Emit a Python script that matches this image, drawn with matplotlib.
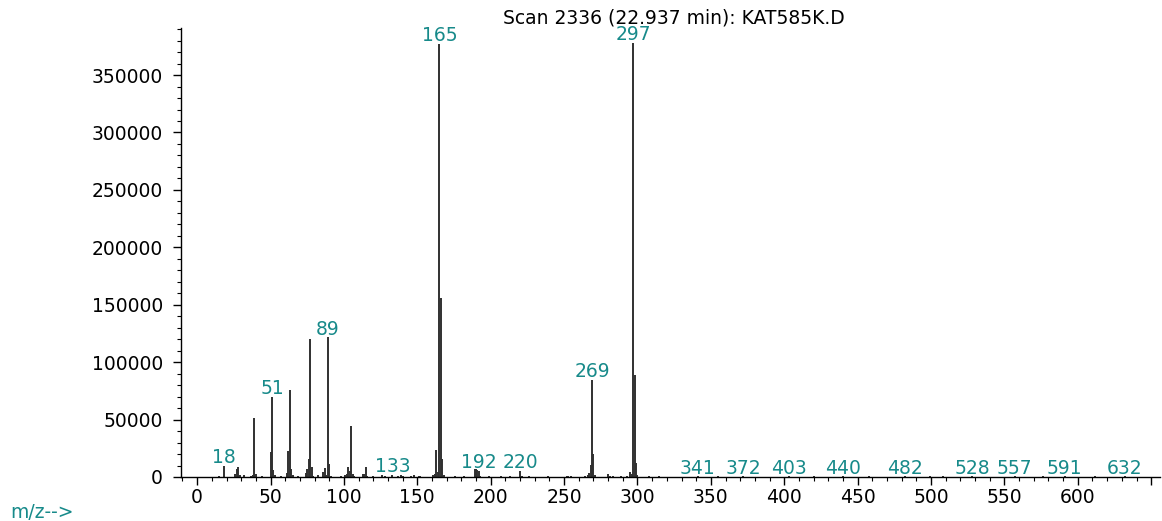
import numpy as np
import matplotlib
matplotlib.use("Agg")
import matplotlib.pyplot as plt
from matplotlib.ticker import MultipleLocator

# mass spectrum: m/z and abundance
mz = [15, 18, 26, 27, 28, 29, 32, 37, 38, 39, 40, 44, 50, 51, 52, 53, 57,
      61, 62, 63, 64, 65, 69, 74, 75, 76, 77, 78, 79, 82, 86, 87, 88, 89,
      90, 91, 98, 101, 102, 103, 104, 105, 106, 107, 113, 114, 115, 116,
      120, 126, 128, 133, 137, 139, 140, 146, 148, 151, 152, 161, 162, 163,
      164, 165, 166, 167, 168, 176, 182, 189, 190, 191, 192, 193, 199, 207,
      213, 220, 221, 226, 239, 252, 253, 255, 264, 266, 267, 268, 269, 270,
      271, 280, 281, 283, 289, 293, 295, 296, 297, 298, 299, 300, 308, 315,
      327, 341, 355, 372, 389, 403, 420, 440, 458, 482, 499, 508, 528, 541,
      557, 576, 591, 612, 632, 645]
abundance = [1200, 9600, 2500, 7000, 8400, 1500, 1700, 1200, 2000, 51000,
             2500, 1000, 22000, 70000, 6000, 1500, 800,
             3500, 22600, 75700, 6700, 1800, 700, 3500, 7000, 16000, 120000,
             8700, 1200, 1700, 4600, 7800, 2000, 121600,
             11300, 1200, 800, 1500, 2500, 9000, 5000, 44400, 2300, 800,
             2300, 2500, 9000, 1000,
             800, 1500, 900, 1500, 1000, 2000, 1200, 800, 1500, 900, 700,
             1500, 3000, 23500,
             4000, 377000, 155800, 15700, 1500, 600, 700, 6700, 6700, 6000,
             5500, 1200, 600, 600,
             600, 5200, 900, 500, 600, 1000, 700, 500, 700, 1500, 3200, 10400,
             84400, 19700,
             2000, 2500, 700, 500, 700, 1000, 4000, 2200, 378000, 88800, 12500,
             1500, 500, 500,
             400, 600, 500, 600, 400, 600, 900, 600, 700, 500, 600, 900, 500,
             400, 600, 500, 600, 800, 500, 400]

labelled = [18, 51, 89, 133, 165, 192, 220, 269, 297, 341, 372, 403, 440,
            482, 528, 557, 591, 632]

title = "Scan 2336 (22.937 min): KAT585K.D"
teal = "#178a8a"

plt.rcParams["font.family"] = ["DejaVu Sans"]
fs = 13.5

fig = plt.figure(figsize=(11.62, 5.21), dpi=100)
ax = fig.add_axes([181 / 1162, 1 - 477 / 521, (1160 - 181) / 1162, (477 - 28) / 521])

ax.vlines(mz, 0, abundance, color="#303030", lw=1.4)

lookup = dict(zip(mz, abundance))
for m in labelled:
    ax.annotate(str(m), (m, lookup[m]), xytext=(0, 2), textcoords="offset points",
                ha="center", va="baseline", color=teal, fontsize=fs)

ax.set_xlim(-11, 656)
ax.set_ylim(0, 391000)

xt = list(range(0, 651, 50))
ax.set_xticks(xt, [str(v) if v <= 600 else "" for v in xt])
ax.xaxis.set_minor_locator(MultipleLocator(10))
ax.set_yticks(range(0, 350001, 50000))
ax.yaxis.set_minor_locator(MultipleLocator(10000))

ax.tick_params(axis="both", which="major", length=6, width=1, labelsize=fs, color="black")
ax.tick_params(axis="both", which="minor", length=3, width=0.8)
ax.tick_params(axis="y", which="major", pad=7)
ax.tick_params(axis="x", which="major", pad=2)

for side in ["top", "right"]:
    ax.spines[side].set_visible(False)
for side in ["left", "bottom"]:
    ax.spines[side].set_linewidth(1)

fig.text(674 / 1162, 1 - 18 / 521, title, ha="center", va="center", fontsize=fs)
fig.text(10 / 1162, 1 - 512 / 521, "m/z-->", ha="left", va="center", fontsize=fs, color=teal)

fig.savefig("out.png", dpi=100)
